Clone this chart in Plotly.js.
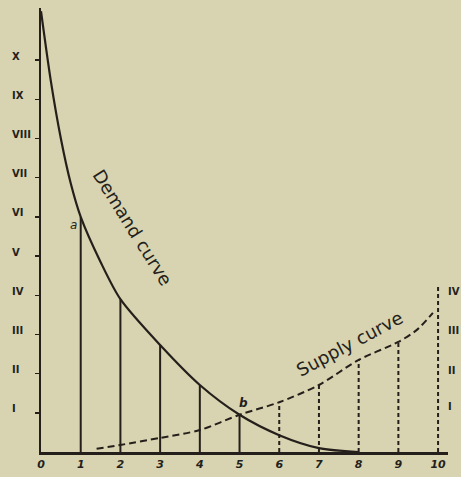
<!DOCTYPE html>
<html>
<head>
<meta charset="utf-8">
<script src="https://cdn.plot.ly/plotly-3.0.1.min.js"></script>
<style>
html,body{margin:0;padding:0;background:#d8d3b0;}
#chart{width:461px;height:477px;}
</style>
</head>
<body>
<div id="chart"></div>
<script>
// ---- data ----
const demandX = [0, 0.25, 0.5, 0.75, 1, 1.5, 2, 3, 4, 5, 6, 7, 8];
const demandY = [11.25, 9.45, 8.0, 6.85, 6.0, 4.85, 3.9, 2.73, 1.71, 0.95, 0.43, 0.1, 0];
const supplyX = [1.4, 2, 3, 4, 5, 6, 7, 8, 9, 9.46, 9.87];
const supplyY = [0.08, 0.18, 0.36, 0.56, 0.95, 1.27, 1.71, 2.35, 2.81, 3.11, 3.55];
const demandOrdX = [1, 2, 3, 4, 5];
const demandOrdY = [6.0, 3.9, 2.73, 1.71, 0.95];
const supplyOrdX = [6, 7, 8, 9, 10];
const supplyOrdY = [1.27, 1.71, 2.35, 2.81, 4.26];
const xTickVals = [0, 1, 2, 3, 4, 5, 6, 7, 8, 9, 10];
const xTickText = ['0', '1', '2', '3', '4', '5', '6', '7', '8', '9', '10'];
const leftTickVals = [1, 2, 3, 4, 5, 6, 7, 8, 9, 10];
const leftTickText = ['I', 'II', 'III', 'IV', 'V', 'VI', 'VII', 'VIII', 'IX', 'X'];
const rightTickVals = [1.16, 2.09, 3.11, 4.09];
const rightTickText = ['I', 'II', 'III', 'IV'];

const ink = '#241f1b';
const bg = '#d8d3b0';

function ordinates(xs, tops) {
  const x = [], y = [];
  xs.forEach((v, i) => { x.push(v, v, null); y.push(0, tops[i], null); });
  return {x, y};
}
const dOrd = ordinates(demandOrdX, demandOrdY);
const sOrd = ordinates(supplyOrdX, supplyOrdY);

const traces = [
  {x: dOrd.x, y: dOrd.y, mode: 'lines', line: {color: ink, width: 2}, hoverinfo: 'skip', cliponaxis: false},
  {x: sOrd.x, y: sOrd.y, mode: 'lines', line: {color: ink, width: 2, dash: '4px,3px'}, hoverinfo: 'skip', cliponaxis: false},
  {x: demandX, y: demandY, mode: 'lines', line: {color: ink, width: 2.2, shape: 'spline', smoothing: 0.8}, name: 'Demand curve', cliponaxis: false},
  {x: supplyX, y: supplyY, mode: 'lines', line: {color: ink, width: 2, dash: '7px,4px', shape: 'spline', smoothing: 0.8}, name: 'Supply curve', cliponaxis: false}
];

const annFont = {family: 'DejaVu Sans', size: 12, color: ink};
const annotations = rightTickVals.map((v, i) => ({
  x: 10.2, y: v, xref: 'x', yref: 'y', text: '<b>' + rightTickText[i] + '</b>',
  showarrow: false, xanchor: 'left', yanchor: 'middle', font: {family: 'DejaVu Sans', size: 10, color: ink}
}));
leftTickVals.forEach((v, i) => annotations.push({
  x: -0.077, xref: 'paper', y: v, yref: 'y', yshift: 4, text: '<b>' + leftTickText[i] + '</b>',
  showarrow: false, xanchor: 'left', yanchor: 'middle', font: {family: 'DejaVu Sans', size: 10, color: ink}
}));
annotations.push(
  {x: 2.3, y: 5.72, xref: 'x', yref: 'y', text: 'Demand curve', textangle: 58, showarrow: false,
   font: {family: 'DejaVu Sans', size: 18, color: ink}},
  {x: 7.78, y: 2.76, xref: 'x', yref: 'y', text: 'Supply curve', textangle: -28, showarrow: false,
   font: {family: 'DejaVu Sans', size: 18, color: ink}},
  {x: 0.81, y: 5.79, xref: 'x', yref: 'y', text: '<i>a</i>', showarrow: false, font: annFont},
  {x: 5.09, y: 1.25, xref: 'x', yref: 'y', text: '<i><b>b</b></i>', showarrow: false, font: annFont}
);

const layout = {
  width: 461, height: 477,
  margin: {l: 41, r: 13, t: 8, b: 25},
  paper_bgcolor: bg, plot_bgcolor: bg,
  showlegend: false,
  xaxis: {
    range: [0, 10.25], showgrid: false, zeroline: false,
    showline: true, linecolor: ink, linewidth: 2.5,
    tickvals: xTickVals, ticktext: xTickText.map(t => '<b><i>' + t + '</i></b>'),
    ticks: '', tickfont: {family: 'DejaVu Sans', size: 11, color: ink}, fixedrange: true
  },
  yaxis: {
    range: [0, 11.33], showgrid: false, zeroline: false,
    showline: true, linecolor: ink, linewidth: 2.5,
    tickvals: leftTickVals, showticklabels: false,
    ticks: 'outside', ticklen: 4, tickwidth: 1.5, tickcolor: ink,
    fixedrange: true
  },
  annotations: annotations
};

Plotly.newPlot('chart', traces, layout, {displayModeBar: false, staticPlot: true});
</script>
</body>
</html>
